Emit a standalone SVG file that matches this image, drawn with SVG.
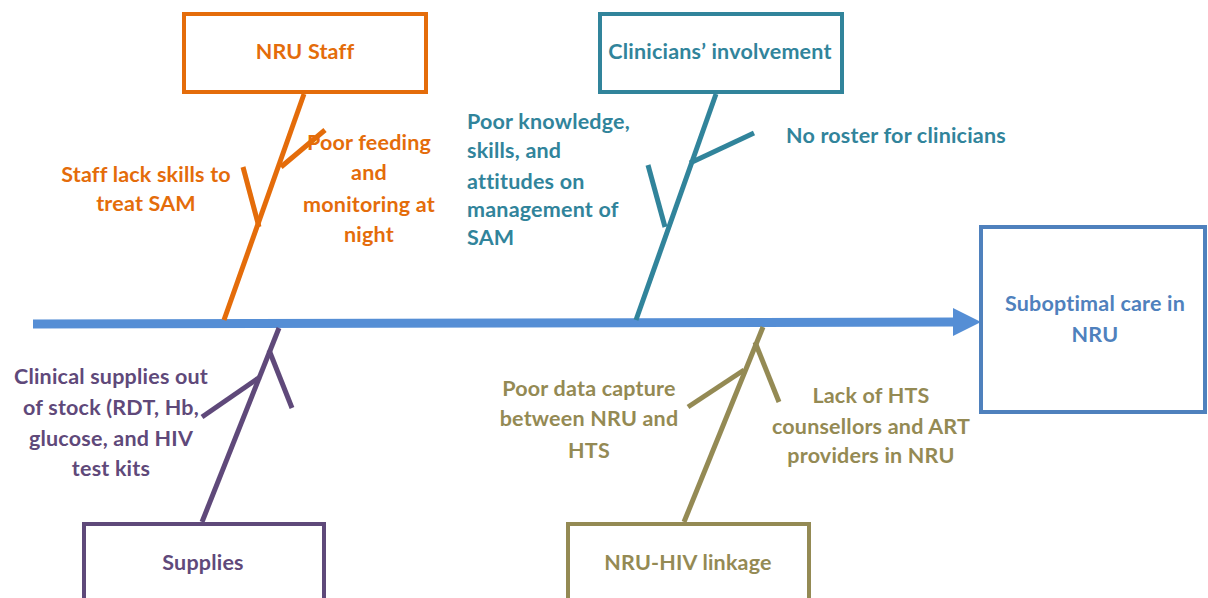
<svg xmlns="http://www.w3.org/2000/svg" width="1208" height="598" viewBox="0 0 1208 598">
<style>
text{font-family:Lato,"Open Sans","Liberation Sans",sans-serif;font-weight:bold;font-size:21.5px;letter-spacing:0.2px}
.box{fill:#fff;stroke-width:4}
.ln{fill:none;stroke-width:5;stroke-linecap:butt}
.o{fill:#E46C0A}.os{stroke:#E46C0A}
.t{fill:#31849B}.ts{stroke:#31849B}
.p{fill:#5F497A}.ps{stroke:#5F497A}
.g{fill:#948A54}.gs{stroke:#948A54}
.b{fill:#4F81BD}
</style>
<rect width="1208" height="598" fill="#fff"/>
<g id="connectors">
<line x1="33" y1="324" x2="955" y2="322" stroke="#558ED5" stroke-width="9"/>
<polygon points="953,308 981,322 953,336" fill="#558ED5"/>
<line class="ln os" x1="224" y1="320" x2="304" y2="94"/>
<line class="ln os" x1="243" y1="167" x2="259" y2="227"/>
<line class="ln os" x1="325" y1="130" x2="281" y2="167"/>
<line class="ln ts" x1="636" y1="320" x2="716" y2="94"/>
<line class="ln ts" x1="754" y1="133" x2="690" y2="163"/>
<line class="ln ts" x1="648" y1="165" x2="665" y2="227"/>
<line class="ln ps" x1="279" y1="328" x2="202" y2="522"/>
<line class="ln ps" x1="202" y1="417" x2="260" y2="377"/>
<line class="ln ps" x1="269" y1="350" x2="292" y2="408"/>
<line class="ln gs" x1="763" y1="327" x2="684" y2="522"/>
<line class="ln gs" x1="688" y1="407" x2="744" y2="370"/>
<line class="ln gs" x1="755" y1="342" x2="779" y2="402"/>
</g>
<g id="nru-staff">
<rect class="box os" x="184" y="14" width="242" height="78"/>
<text class="o" x="305" y="59" text-anchor="middle">NRU Staff</text>
</g>
<g id="staff-skills">
<text class="o" text-anchor="middle"><tspan x="146" y="182">Staff lack skills to</tspan><tspan x="146" y="211">treat SAM</tspan></text>
</g>
<g id="poor-feeding">
<text class="o" text-anchor="middle"><tspan x="369" y="150">Poor feeding</tspan><tspan x="369" y="180">and</tspan><tspan x="369" y="212">monitoring at</tspan><tspan x="369" y="242">night</tspan></text>
</g>
<g id="clinicians">
<rect class="box ts" x="600" y="14" width="242" height="78"/>
<text class="t" x="720" y="59" text-anchor="middle">Clinicians’ involvement</text>
</g>
<g id="poor-knowledge">
<text class="t"><tspan x="467" y="129">Poor knowledge,</tspan><tspan x="467" y="158">skills, and</tspan><tspan x="467" y="189">attitudes on</tspan><tspan x="467" y="217">management of</tspan><tspan x="467" y="245">SAM</tspan></text>
</g>
<g id="no-roster">
<text class="t" x="786" y="143">No roster for clinicians</text>
</g>
<g id="outcome">
<rect x="981" y="227" width="224" height="185" fill="#fff" stroke="#4F81BD" stroke-width="4"/>
<text class="b" text-anchor="middle"><tspan x="1095" y="311">Suboptimal care in</tspan><tspan x="1095" y="342">NRU</tspan></text>
</g>
<g id="supplies">
<rect class="box ps" x="84" y="524" width="240" height="100"/>
<text class="p" x="203" y="570" text-anchor="middle">Supplies</text>
</g>
<g id="clinical-supplies">
<text class="p" text-anchor="middle"><tspan x="111" y="384">Clinical supplies out</tspan><tspan x="111" y="415">of stock (RDT, Hb,</tspan><tspan x="111" y="446">glucose, and HIV</tspan><tspan x="111" y="476">test kits</tspan></text>
</g>
<g id="nru-hiv">
<rect class="box gs" x="568" y="524" width="241" height="100"/>
<text class="g" x="688" y="570" text-anchor="middle">NRU-HIV linkage</text>
</g>
<g id="poor-data">
<text class="g" text-anchor="middle"><tspan x="589" y="396">Poor data capture</tspan><tspan x="589" y="426">between NRU and</tspan><tspan x="589" y="458">HTS</tspan></text>
</g>
<g id="lack-hts">
<text class="g" text-anchor="middle"><tspan x="871" y="403">Lack of HTS</tspan><tspan x="871" y="434">counsellors and ART</tspan><tspan x="871" y="463">providers in NRU</tspan></text>
</g>
</svg>
